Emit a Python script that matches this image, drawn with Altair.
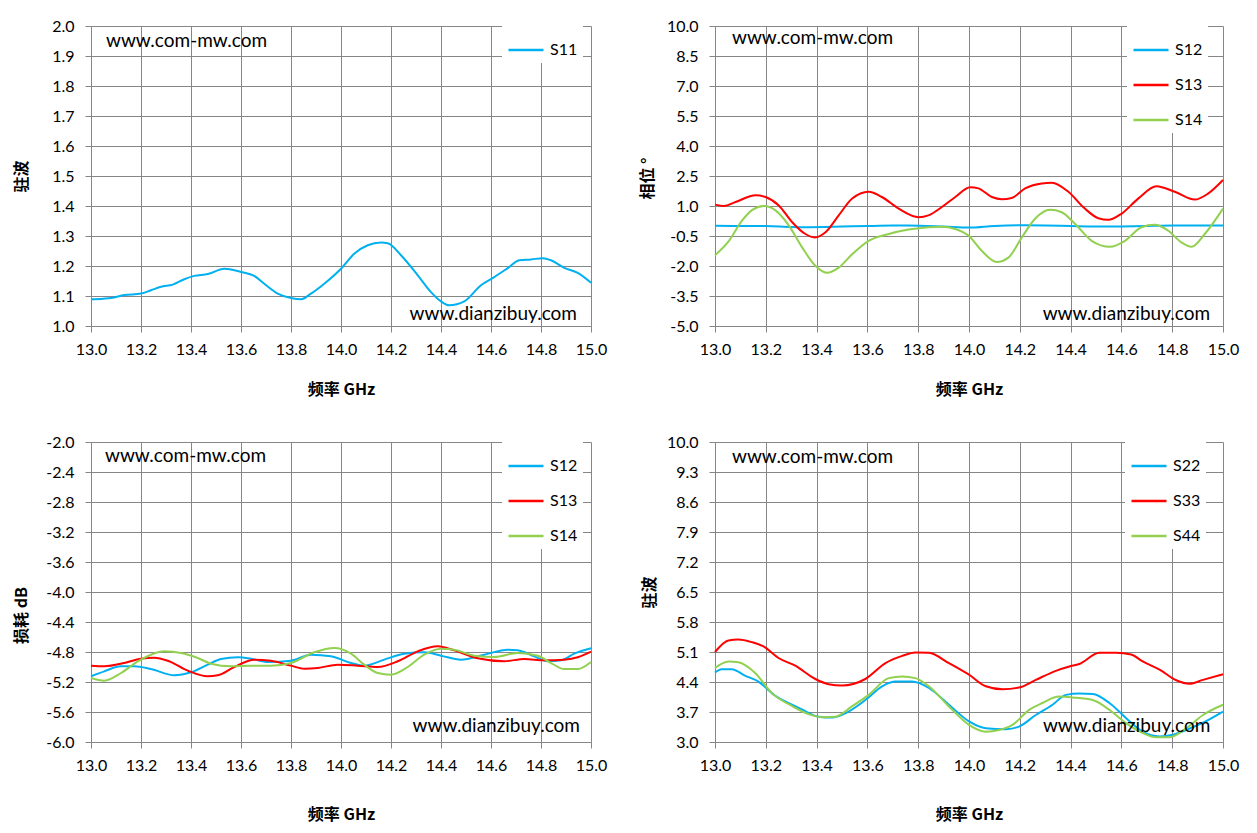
import altair as alt
import pandas as pd

# ---------------- data ----------------
x_ticks = [13.0, 13.2, 13.4, 13.6, 13.8, 14.0, 14.2, 14.4, 14.6, 14.8, 15.0]

# Panel 1: S11 VSWR
s11_f = [13.0, 13.049, 13.08, 13.133, 13.2, 13.24, 13.28, 13.327, 13.373, 13.413, 13.467, 13.533, 13.6,
         13.653, 13.693, 13.747, 13.8, 13.84, 13.88, 13.933, 14.0, 14.053, 14.107, 14.16, 14.187, 14.24,
         14.307, 14.36, 14.4, 14.433, 14.493, 14.56, 14.613, 14.667, 14.713, 14.76, 14.807, 14.84, 14.893,
         14.947, 15.0]
s11_v = [1.089, 1.091, 1.093, 1.103, 1.108, 1.119, 1.131, 1.138, 1.156, 1.167, 1.173, 1.191, 1.18,
         1.167, 1.141, 1.108, 1.093, 1.089, 1.108, 1.141, 1.191, 1.241, 1.269, 1.278, 1.276, 1.236,
         1.169, 1.113, 1.082, 1.069, 1.082, 1.136, 1.163, 1.193, 1.219, 1.222, 1.226, 1.219, 1.194,
         1.177, 1.144]
p1_yticks = [1.0, 1.1, 1.2, 1.3, 1.4, 1.5, 1.6, 1.7, 1.8, 1.9, 2.0]

# Panel 2: phase
ph12_f = [13.0, 13.1, 13.2, 13.3, 13.37, 13.5, 13.6, 13.7, 13.76, 13.9, 14.0, 14.1, 14.22, 14.3, 14.4,
          14.55, 14.6, 14.7, 14.8, 14.9, 15.0]
ph12_v = [0.01, 0.0, 0.0, -0.05, -0.06, -0.03, 0.0, 0.02, 0.02, -0.03, -0.08, 0.0, 0.04, 0.03, 0.0,
          -0.03, -0.02, 0.0, 0.02, 0.02, 0.02]
ph13_f = [13.0, 13.035, 13.081, 13.16, 13.199, 13.251, 13.304, 13.356, 13.393, 13.435, 13.487, 13.54,
          13.605, 13.657, 13.723, 13.802, 13.84, 13.893, 13.946, 14.005, 14.037, 14.09, 14.129, 14.168,
          14.221, 14.286, 14.326, 14.391, 14.456, 14.509, 14.548, 14.6, 14.666, 14.738, 14.81, 14.889,
          14.941, 15.0]
ph13_v = [1.07, 1.0, 1.2, 1.54, 1.45, 1.03, 0.19, -0.4, -0.57, -0.31, 0.53, 1.37,
          1.71, 1.45, 0.87, 0.44, 0.53, 0.95, 1.45, 1.94, 1.88, 1.45, 1.34, 1.4,
          1.88, 2.13, 2.16, 1.71, 0.87, 0.39, 0.31, 0.61, 1.37, 1.99, 1.71, 1.32,
          1.62, 2.3]
ph14_f = [13.0, 13.055, 13.107, 13.147, 13.193, 13.238, 13.291, 13.343, 13.396, 13.441, 13.487, 13.54,
          13.605, 13.684, 13.762, 13.841, 13.893, 13.946, 13.998, 14.05, 14.109, 14.155, 14.208, 14.26,
          14.319, 14.365, 14.418, 14.483, 14.555, 14.614, 14.679, 14.731, 14.784, 14.836, 14.876, 14.928,
          15.0]
ph14_v = [-1.46, -0.74, 0.28, 0.81, 1.0, 0.78, 0.02, -1.07, -2.0, -2.34, -2.08, -1.41,
          -0.74, -0.4, -0.18, -0.06, -0.04, -0.15, -0.48, -1.24, -1.8, -1.58, -0.57, 0.36,
          0.81, 0.69, 0.1, -0.74, -1.04, -0.74, -0.06, 0.06, -0.23, -0.82, -1.04, -0.4,
          0.87]
p2_yticks = [-5.0, -3.5, -2.0, -0.5, 1.0, 2.5, 4.0, 5.5, 7.0, 8.5, 10.0]

# Panel 3: loss dB
db12_f = [13.0, 13.053, 13.12, 13.173, 13.24, 13.333, 13.4, 13.467, 13.52, 13.587, 13.64, 13.707, 13.8,
          13.88, 13.96, 14.04, 14.093, 14.173, 14.253, 14.333, 14.4, 14.48, 14.573, 14.667, 14.707,
          14.773, 14.827, 14.88, 14.933, 15.0]
db12_v = [-5.124, -5.058, -4.99, -4.99, -5.027, -5.111, -5.071, -4.969, -4.893, -4.871, -4.889, -4.933,
          -4.916, -4.836, -4.858, -4.947, -4.982, -4.902, -4.822, -4.804, -4.849, -4.902, -4.836, -4.769,
          -4.778, -4.858, -4.924, -4.911, -4.822, -4.751]
db13_f = [13.0, 13.053, 13.133, 13.2, 13.253, 13.307, 13.387, 13.467, 13.507, 13.573, 13.653, 13.72, 13.8,
          13.853, 13.907, 13.987, 14.067, 14.147, 14.227, 14.307, 14.387, 14.453, 14.547, 14.653, 14.733,
          14.813, 14.893, 14.947, 15.0]
db13_v = [-4.982, -4.991, -4.947, -4.889, -4.876, -4.916, -5.049, -5.124, -5.111, -5.0, -4.902, -4.916,
          -4.982, -5.022, -5.013, -4.969, -4.982, -5.0, -4.924, -4.791, -4.724, -4.778, -4.884, -4.924,
          -4.893, -4.911, -4.902, -4.871, -4.796]
db14_f = [13.0, 13.053, 13.12, 13.187, 13.24, 13.293, 13.36, 13.427, 13.48, 13.56, 13.64, 13.72, 13.8,
          13.893, 13.973, 14.04, 14.093, 14.147, 14.2, 14.267, 14.333, 14.4, 14.453, 14.533, 14.613,
          14.707, 14.787, 14.84, 14.893, 14.947, 15.0]
db14_v = [-5.147, -5.182, -5.08, -4.924, -4.836, -4.791, -4.813, -4.88, -4.956, -4.991, -4.982, -4.982,
          -4.947, -4.804, -4.747, -4.822, -4.969, -5.08, -5.102, -5.0, -4.836, -4.756, -4.769, -4.849,
          -4.867, -4.813, -4.849, -4.947, -5.027, -5.027, -4.933]
p3_yticks = [-6.0, -5.6, -5.2, -4.8, -4.4, -4.0, -3.6, -3.2, -2.8, -2.4, -2.0]

# Panel 4: VSWR S22/S33/S44
s22_f = [13.0, 13.026, 13.066, 13.118, 13.171, 13.237, 13.303, 13.342, 13.408, 13.461, 13.513, 13.592,
         13.658, 13.711, 13.776, 13.842, 13.921, 14.0, 14.066, 14.145, 14.197, 14.263, 14.329, 14.382,
         14.434, 14.487, 14.553, 14.618, 14.684, 14.75, 14.803, 14.855, 14.921, 15.0]
s22_v = [4.62, 4.7, 4.7, 4.55, 4.41, 4.08, 3.87, 3.76, 3.59, 3.57, 3.67, 3.98,
         4.3, 4.41, 4.41, 4.26, 3.87, 3.48, 3.32, 3.3, 3.36, 3.63, 3.87, 4.1,
         4.13, 4.12, 3.91, 3.56, 3.24, 3.13, 3.17, 3.28, 3.45, 3.71]
s33_f = [13.0, 13.053, 13.092, 13.145, 13.191, 13.25, 13.316, 13.395, 13.447, 13.5, 13.592, 13.671,
         13.737, 13.789, 13.842, 13.921, 14.0, 14.066, 14.132, 14.197, 14.263, 14.342, 14.395, 14.434,
         14.513, 14.579, 14.638, 14.684, 14.75, 14.816, 14.868, 14.921, 15.0]
s33_v = [5.1, 5.37, 5.39, 5.33, 5.23, 4.96, 4.78, 4.47, 4.35, 4.32, 4.47, 4.84,
         5.01, 5.09, 5.08, 4.84, 4.57, 4.3, 4.23, 4.27, 4.45, 4.66, 4.76, 4.82,
         5.08, 5.08, 5.04, 4.88, 4.69, 4.44, 4.36, 4.45, 4.58]
s44_f = [13.0, 13.053, 13.092, 13.158, 13.224, 13.303, 13.368, 13.421, 13.474, 13.539, 13.605, 13.684,
         13.737, 13.789, 13.842, 13.921, 14.0, 14.066, 14.118, 14.171, 14.237, 14.289, 14.355, 14.408,
         14.487, 14.553, 14.618, 14.684, 14.737, 14.789, 14.855, 14.921, 15.0]
s44_v = [4.73, 4.88, 4.86, 4.61, 4.14, 3.84, 3.65, 3.58, 3.59, 3.83, 4.1, 4.49,
         4.53, 4.49, 4.3, 3.83, 3.4, 3.24, 3.28, 3.4, 3.75, 3.91, 4.06, 4.04,
         3.98, 3.75, 3.44, 3.21, 3.11, 3.11, 3.32, 3.63, 3.87]
p4_yticks = [3.0, 3.7, 4.4, 5.1, 5.8, 6.5, 7.2, 7.9, 8.6, 9.3, 10.0]

# watermark texts and their anchor points in data units
wm_top = "www.com-mw.com"
wm_bottom = "www.dianzibuy.com"
wm_pos = {
    1: [(13.06, 1.95), (14.944, 1.04)],
    2: [(13.067, 9.39), (14.949, -4.39)],
    3: [(13.056, -2.19), (14.956, -5.79)],
    4: [(13.067, 9.65), (14.95, 3.37)],
}

BLUE = "#00B0F0"
RED = "#FF0000"
GREEN = "#92D050"
GRID = "#868686"


def long_df(series):
    rows = []
    for name, fs, vs in series:
        for f, v in zip(fs, vs):
            rows.append({"f": f, "v": v, "s": name})
    return pd.DataFrame(rows)


def panel(series, colors, yticks, ytitle, w, h, legx, ytx, yty, xty, wm, rowpad):
    names = [s[0] for s in series]
    df = long_df(series)
    ydom = [yticks[0], yticks[-1]]
    xenc = alt.X("f:Q",
                 scale=alt.Scale(domain=[13.0, 15.0], nice=False, zero=False),
                 axis=alt.Axis(values=x_ticks, format=".1f", title="频率 GHz",
                               titleY=xty, titleBaseline="middle", labelPadding=9,
                               labelFlush=False, labelOverlap=False))
    yenc = alt.Y("v:Q",
                 scale=alt.Scale(domain=ydom, nice=False, zero=False),
                 axis=alt.Axis(values=yticks,
                               labelExpr="(datum.value < 0 ? '-' : '') + format(abs(datum.value), '.1f')",
                               title=ytitle, titleX=ytx, titleY=yty, titleBaseline="middle",
                               titleAlign="center", labelPadding=11,
                               labelFlush=False, labelOverlap=False))
    cenc = alt.Color("s:N",
                     scale=alt.Scale(domain=names, range=colors),
                     legend=alt.Legend(orient="none", legendX=legx, legendY=0, title=None,
                                       symbolType="stroke", symbolSize=1225, symbolStrokeWidth=2.5,
                                       fillColor="white", padding=5, labelOffset=5,
                                       labelFont="Lato", labelFontSize=16, labelColor="black",
                                       rowPadding=rowpad))
    lines = alt.Chart(df).mark_line(strokeWidth=2, interpolate="monotone").encode(
        x=xenc, y=yenc, color=cenc)
    wdf1 = pd.DataFrame({"f": [wm[0][0]], "v": [wm[0][1]], "t": [wm_top]})
    wdf2 = pd.DataFrame({"f": [wm[1][0]], "v": [wm[1][1]], "t": [wm_bottom]})
    t1 = alt.Chart(wdf1).mark_text(align="left", baseline="middle", font="Lato", fontSize=19,
                                   color="black").encode(x=xenc, y=yenc, text="t:N")
    t2 = alt.Chart(wdf2).mark_text(align="right", baseline="middle", font="Lato", fontSize=19,
                                   color="black").encode(x=xenc, y=yenc, text="t:N")
    return alt.layer(lines, t1, t2).properties(width=w, height=h)


p1 = panel([("S11", s11_f, s11_v)], [BLUE], p1_yticks, "驻波", 500, 300, 411, -70, 150, 63,
           wm_pos[1], 0)
p2 = panel([("S12", ph12_f, ph12_v), ("S13", ph13_f, ph13_v), ("S14", ph14_f, ph14_v)],
           [BLUE, RED, GREEN], p2_yticks, "相位 °", 508, 300, 412, -68, 152, 63, wm_pos[2], 8)
p3 = panel([("S12", db12_f, db12_v), ("S13", db13_f, db13_v), ("S14", db14_f, db14_v)],
           [BLUE, RED, GREEN], p3_yticks, "损耗 dB", 500, 300, 411, -70, 173, 72, wm_pos[3], 8)
p4 = panel([("S22", s22_f, s22_v), ("S33", s33_f, s33_v), ("S44", s44_f, s44_v)],
           [BLUE, RED, GREEN], p4_yticks, "驻波", 508, 300, 410, -66, 150, 72, wm_pos[4], 8)

chart = alt.concat(p1, p2, p3, p4, columns=2,
                   spacing=alt.RowColnumber(row=116, column=124),
                   bounds="flush").resolve_scale(
    color="independent", x="independent", y="independent"
).resolve_legend(color="independent").properties(
    padding={"left": 5, "top": 10, "right": 5, "bottom": 5},
    background="white",
).configure_view(stroke=None).configure_axis(
    domainColor=GRID, tickColor=GRID, gridColor=GRID, gridOpacity=1, gridWidth=1,
    domainWidth=1, tickWidth=1, tickSize=6,
    labelFont="Lato", labelFontSize=16, labelColor="black",
    titleFont="Noto Sans CJK SC", titleFontSize=16, titleFontWeight="bold", titleColor="black",
)

chart.save("out.html", embed_options={"renderer": "svg", "actions": False})
